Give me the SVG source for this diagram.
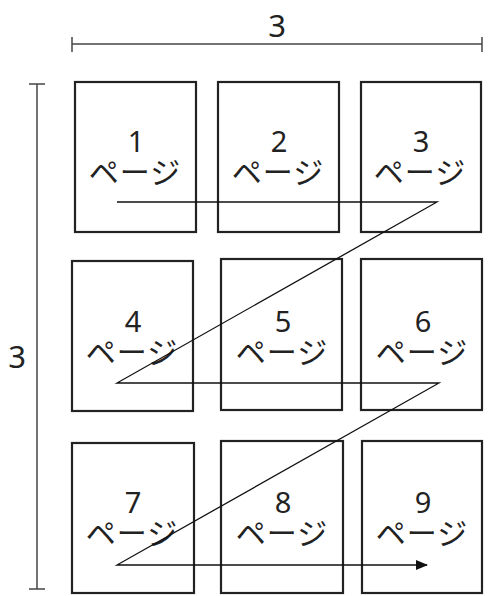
<svg xmlns="http://www.w3.org/2000/svg" width="493" height="596" viewBox="0 0 493 596">
<style>
.box{fill:#fff;stroke:#222;stroke-width:2.2}
.num{font-family:"Noto Sans","Noto Sans CJK JP",sans-serif;font-size:29px;fill:#222;text-anchor:middle}
.pg{font-family:"Noto Sans CJK JP",sans-serif;font-size:30px;fill:#222;text-anchor:middle;letter-spacing:1px}
.dim{stroke:#444;stroke-width:1.5;fill:none}
.dl{font-family:"Noto Sans",sans-serif;font-size:31px;fill:#222;text-anchor:middle}
.conn{stroke:#111;stroke-width:1.3;fill:none}
</style>
<defs>
<marker id="arr" markerWidth="12" markerHeight="10" refX="11" refY="5" orient="auto" markerUnits="userSpaceOnUse">
<path d="M0,0 L12,5 L0,10 Z" fill="#111"/>
</marker>
</defs>
<g id="dim-top">
<line class="dim" x1="72" y1="44" x2="482" y2="44"/>
<line class="dim" x1="72" y1="37" x2="72" y2="52"/>
<line class="dim" x1="482" y1="37" x2="482" y2="52"/>
<text class="dl" x="277" y="37">3</text>
</g>
<g id="dim-left">
<line class="dim" x1="37" y1="84" x2="37" y2="589"/>
<line class="dim" x1="29" y1="84" x2="45" y2="84"/>
<line class="dim" x1="29" y1="589" x2="45" y2="589"/>
<text class="dl" x="17" y="368">3</text>
</g>
<g id="p1"><rect class="box" x="75" y="82" width="121" height="150"/><text class="num" x="136" y="152">1</text><text class="pg" x="135" y="183">ページ</text></g>
<g id="p2"><rect class="box" x="218" y="82" width="121" height="150"/><text class="num" x="279" y="152">2</text><text class="pg" x="278" y="183">ページ</text></g>
<g id="p3"><rect class="box" x="361" y="82" width="120" height="150"/><text class="num" x="421" y="152">3</text><text class="pg" x="420" y="183">ページ</text></g>
<g id="p4"><rect class="box" x="72" y="261" width="121" height="150"/><text class="num" x="133" y="332">4</text><text class="pg" x="132" y="363">ページ</text></g>
<g id="p5"><rect class="box" x="221" y="259" width="121" height="151"/><text class="num" x="283" y="332">5</text><text class="pg" x="282" y="363">ページ</text></g>
<g id="p6"><rect class="box" x="361" y="259" width="121" height="151"/><text class="num" x="423" y="332">6</text><text class="pg" x="422" y="363">ページ</text></g>
<g id="p7"><rect class="box" x="72" y="443" width="122" height="150"/><text class="num" x="133" y="513">7</text><text class="pg" x="132" y="544">ページ</text></g>
<g id="p8"><rect class="box" x="221" y="441" width="122" height="152"/><text class="num" x="283" y="513">8</text><text class="pg" x="282" y="544">ページ</text></g>
<g id="p9"><rect class="box" x="362" y="441" width="120" height="152"/><text class="num" x="423" y="513">9</text><text class="pg" x="422" y="544">ページ</text></g>
<g id="connectors">
<polyline class="conn" points="117,202 437,202 117,383 439,383 117,565 427,565" marker-end="url(#arr)"/>
</g>
</svg>
